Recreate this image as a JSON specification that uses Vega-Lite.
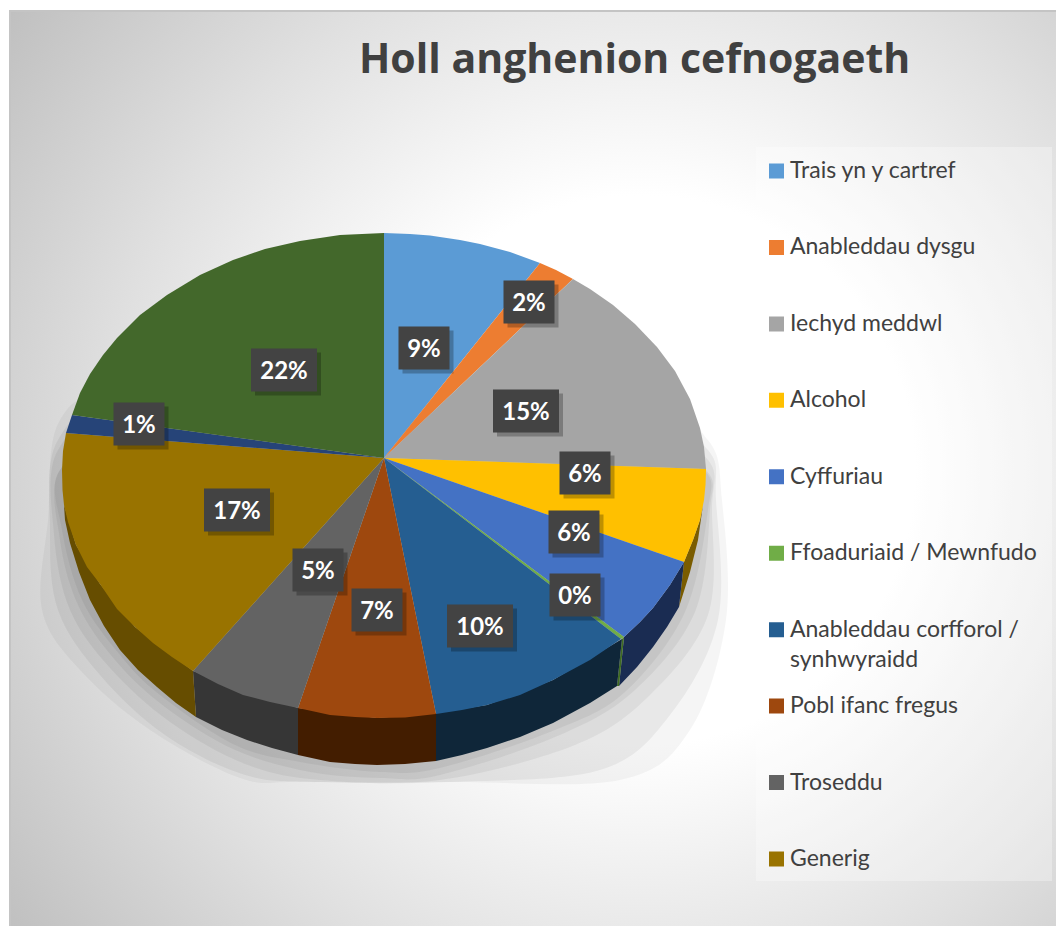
{"$schema":"https://vega.github.io/schema/vega-lite/v6.json","width":1056,"height":926,"padding":0,"autosize":{"type":"none"},"background":"white",
"title":{"text":"Holl anghenion cefnogaeth","font":"Open Sans","fontSize":41,"fontWeight":"bold","color":"#404040","anchor":"start","frame":"group","dx":359,"offset":-82},
"config":{"view":{"stroke":null}},
"datasets":{
"panels":[{"name":"frame","x":10,"x2":1060,"y":11,"y2":930}],
"legendPanel":[{"name":"legend","x":756,"x2":1052,"y":147,"y2":881}],
"legendWrap":[{"text":"synhwyraidd","x":790,"y":660}],
"shadow":[
{"band":"b1","i":0,"x":60,"y":420},{"band":"b1","i":1,"x":48,"y":520},{"band":"b1","i":2,"x":42,"y":610},{"band":"b1","i":3,"x":80,"y":670},{"band":"b1","i":4,"x":150,"y":730},{"band":"b1","i":5,"x":240,"y":778},{"band":"b1","i":6,"x":300,"y":782},{"band":"b1","i":7,"x":450,"y":782},{"band":"b1","i":8,"x":620,"y":780},{"band":"b1","i":9,"x":690,"y":730},{"band":"b1","i":10,"x":726,"y":620},{"band":"b1","i":11,"x":722,"y":500},{"band":"b1","i":12,"x":708,"y":440},{"band":"b1","i":13,"x":640,"y":400},{"band":"b1","i":14,"x":384,"y":380},{"band":"b1","i":15,"x":130,"y":390},
{"band":"b2","i":0,"x":58,"y":440},{"band":"b2","i":1,"x":50,"y":530},{"band":"b2","i":2,"x":58,"y":610},{"band":"b2","i":3,"x":100,"y":675},{"band":"b2","i":4,"x":165,"y":735},{"band":"b2","i":5,"x":245,"y":775},{"band":"b2","i":6,"x":320,"y":782},{"band":"b2","i":7,"x":450,"y":782},{"band":"b2","i":8,"x":600,"y":770},{"band":"b2","i":9,"x":670,"y":715},{"band":"b2","i":10,"x":718,"y":620},{"band":"b2","i":11,"x":716,"y":500},{"band":"b2","i":12,"x":708,"y":450},{"band":"b2","i":13,"x":640,"y":410},{"band":"b2","i":14,"x":384,"y":390},{"band":"b2","i":15,"x":130,"y":400},
{"band":"b3","i":0,"x":58,"y":450},{"band":"b3","i":1,"x":54,"y":535},{"band":"b3","i":2,"x":70,"y":610},{"band":"b3","i":3,"x":110,"y":668},{"band":"b3","i":4,"x":170,"y":722},{"band":"b3","i":5,"x":245,"y":764},{"band":"b3","i":6,"x":320,"y":780},{"band":"b3","i":7,"x":440,"y":780},{"band":"b3","i":8,"x":575,"y":745},{"band":"b3","i":9,"x":650,"y":695},{"band":"b3","i":10,"x":708,"y":615},{"band":"b3","i":11,"x":712,"y":510},{"band":"b3","i":12,"x":708,"y":460},{"band":"b3","i":13,"x":640,"y":420},{"band":"b3","i":14,"x":384,"y":400},{"band":"b3","i":15,"x":130,"y":410},
{"band":"b4","i":0,"x":60,"y":470},{"band":"b4","i":1,"x":60,"y":540},{"band":"b4","i":2,"x":78,"y":605},{"band":"b4","i":3,"x":115,"y":660},{"band":"b4","i":4,"x":165,"y":707},{"band":"b4","i":5,"x":235,"y":750},{"band":"b4","i":6,"x":310,"y":772},{"band":"b4","i":7,"x":380,"y":778},{"band":"b4","i":8,"x":440,"y":775},{"band":"b4","i":9,"x":560,"y":735},{"band":"b4","i":10,"x":635,"y":690},{"band":"b4","i":11,"x":695,"y":612},{"band":"b4","i":12,"x":710,"y":510},{"band":"b4","i":13,"x":706,"y":470},{"band":"b4","i":14,"x":640,"y":430},{"band":"b4","i":15,"x":384,"y":410},{"band":"b4","i":16,"x":130,"y":430},
{"band":"b5","i":0,"x":60,"y":470},{"band":"b5","i":1,"x":62,"y":530},{"band":"b5","i":2,"x":82,"y":600},{"band":"b5","i":3,"x":120,"y":655},{"band":"b5","i":4,"x":160,"y":695},{"band":"b5","i":5,"x":235,"y":745},{"band":"b5","i":6,"x":300,"y":762},{"band":"b5","i":7,"x":380,"y":772},{"band":"b5","i":8,"x":440,"y":768},{"band":"b5","i":9,"x":555,"y":730},{"band":"b5","i":10,"x":625,"y":692},{"band":"b5","i":11,"x":685,"y":612},{"band":"b5","i":12,"x":708,"y":510},{"band":"b5","i":13,"x":704,"y":470},{"band":"b5","i":14,"x":640,"y":440},{"band":"b5","i":15,"x":384,"y":420},{"band":"b5","i":16,"x":130,"y":440}
],
"walls":[
{"slice":"Alcohol","i":0,"x":703,"y":505},{"slice":"Alcohol","i":1,"x":698,"y":540},{"slice":"Alcohol","i":2,"x":690,"y":572},{"slice":"Alcohol","i":3,"x":679,"y":607},{"slice":"Alcohol","i":4,"x":684,"y":562},{"slice":"Alcohol","i":5,"x":693,"y":540},{"slice":"Alcohol","i":6,"x":700,"y":520},
{"slice":"Cyffuriau","i":0,"x":684,"y":562},{"slice":"Cyffuriau","i":1,"x":679,"y":607},{"slice":"Cyffuriau","i":2,"x":667,"y":627},{"slice":"Cyffuriau","i":3,"x":653,"y":647},{"slice":"Cyffuriau","i":4,"x":637,"y":667},{"slice":"Cyffuriau","i":5,"x":619,"y":686},{"slice":"Cyffuriau","i":6,"x":624,"y":637},{"slice":"Cyffuriau","i":7,"x":640,"y":622},{"slice":"Cyffuriau","i":8,"x":653,"y":608},{"slice":"Cyffuriau","i":9,"x":670,"y":585},
{"slice":"Ffoaduriaid / Mewnfudo","i":0,"x":624,"y":637},{"slice":"Ffoaduriaid / Mewnfudo","i":1,"x":619,"y":686},{"slice":"Ffoaduriaid / Mewnfudo","i":2,"x":617,"y":686},{"slice":"Ffoaduriaid / Mewnfudo","i":3,"x":622,"y":639},
{"slice":"Anableddau corfforol / synhwyraidd","i":0,"x":622,"y":639},{"slice":"Anableddau corfforol / synhwyraidd","i":1,"x":617,"y":686},{"slice":"Anableddau corfforol / synhwyraidd","i":2,"x":590,"y":703},{"slice":"Anableddau corfforol / synhwyraidd","i":3,"x":553,"y":723},{"slice":"Anableddau corfforol / synhwyraidd","i":4,"x":520,"y":737},{"slice":"Anableddau corfforol / synhwyraidd","i":5,"x":487,"y":748},{"slice":"Anableddau corfforol / synhwyraidd","i":6,"x":462,"y":755},{"slice":"Anableddau corfforol / synhwyraidd","i":7,"x":436,"y":761},{"slice":"Anableddau corfforol / synhwyraidd","i":8,"x":436,"y":713},{"slice":"Anableddau corfforol / synhwyraidd","i":9,"x":487,"y":705},{"slice":"Anableddau corfforol / synhwyraidd","i":10,"x":553,"y":680},
{"slice":"Pobl ifanc fregus","i":0,"x":436,"y":713},{"slice":"Pobl ifanc fregus","i":1,"x":436,"y":761},{"slice":"Pobl ifanc fregus","i":2,"x":405,"y":764},{"slice":"Pobl ifanc fregus","i":3,"x":377,"y":765},{"slice":"Pobl ifanc fregus","i":4,"x":355,"y":764},{"slice":"Pobl ifanc fregus","i":5,"x":330,"y":762},{"slice":"Pobl ifanc fregus","i":6,"x":298,"y":755},{"slice":"Pobl ifanc fregus","i":7,"x":298,"y":708},{"slice":"Pobl ifanc fregus","i":8,"x":377,"y":718},
{"slice":"Troseddu","i":0,"x":298,"y":708},{"slice":"Troseddu","i":1,"x":298,"y":755},{"slice":"Troseddu","i":2,"x":272,"y":748},{"slice":"Troseddu","i":3,"x":247,"y":740},{"slice":"Troseddu","i":4,"x":222,"y":730},{"slice":"Troseddu","i":5,"x":196,"y":717},{"slice":"Troseddu","i":6,"x":193,"y":671},
{"slice":"Generig","i":0,"x":193,"y":671},{"slice":"Generig","i":1,"x":196,"y":717},{"slice":"Generig","i":2,"x":176,"y":703},{"slice":"Generig","i":3,"x":157,"y":687},{"slice":"Generig","i":4,"x":138,"y":670},{"slice":"Generig","i":5,"x":120,"y":650},{"slice":"Generig","i":6,"x":104,"y":626},{"slice":"Generig","i":7,"x":90,"y":600},{"slice":"Generig","i":8,"x":79,"y":572},{"slice":"Generig","i":9,"x":70,"y":543},{"slice":"Generig","i":10,"x":65,"y":520},{"slice":"Generig","i":11,"x":64,"y":505},{"slice":"Generig","i":12,"x":76,"y":545},{"slice":"Generig","i":13,"x":100,"y":584},{"slice":"Generig","i":14,"x":135,"y":627}
],
"wedges":[
{"slice":"Trais yn y cartref","i":0,"x":384,"y":458},{"slice":"Trais yn y cartref","i":1,"x":384,"y":233},{"slice":"Trais yn y cartref","i":2,"x":410,"y":234},{"slice":"Trais yn y cartref","i":3,"x":430,"y":235.5},{"slice":"Trais yn y cartref","i":4,"x":460,"y":240},{"slice":"Trais yn y cartref","i":5,"x":480,"y":244},{"slice":"Trais yn y cartref","i":6,"x":510,"y":252},{"slice":"Trais yn y cartref","i":7,"x":540,"y":263},
{"slice":"Anableddau dysgu","i":0,"x":384,"y":458},{"slice":"Anableddau dysgu","i":1,"x":540,"y":263},{"slice":"Anableddau dysgu","i":2,"x":556,"y":270},{"slice":"Anableddau dysgu","i":3,"x":573,"y":279},
{"slice":"Iechyd meddwl","i":0,"x":384,"y":458},{"slice":"Iechyd meddwl","i":1,"x":573,"y":279},{"slice":"Iechyd meddwl","i":2,"x":590,"y":289},{"slice":"Iechyd meddwl","i":3,"x":613,"y":305},{"slice":"Iechyd meddwl","i":4,"x":635,"y":324},{"slice":"Iechyd meddwl","i":5,"x":657,"y":347},{"slice":"Iechyd meddwl","i":6,"x":675,"y":371},{"slice":"Iechyd meddwl","i":7,"x":690,"y":399},{"slice":"Iechyd meddwl","i":8,"x":700,"y":428},{"slice":"Iechyd meddwl","i":9,"x":704,"y":447},{"slice":"Iechyd meddwl","i":10,"x":706,"y":469},
{"slice":"Alcohol","i":0,"x":384,"y":458},{"slice":"Alcohol","i":1,"x":706,"y":469},{"slice":"Alcohol","i":2,"x":705.5,"y":485},{"slice":"Alcohol","i":3,"x":704,"y":500},{"slice":"Alcohol","i":4,"x":700,"y":520},{"slice":"Alcohol","i":5,"x":693,"y":540},{"slice":"Alcohol","i":6,"x":684,"y":562},
{"slice":"Cyffuriau","i":0,"x":384,"y":458},{"slice":"Cyffuriau","i":1,"x":684,"y":562},{"slice":"Cyffuriau","i":2,"x":670,"y":585},{"slice":"Cyffuriau","i":3,"x":653,"y":608},{"slice":"Cyffuriau","i":4,"x":640,"y":622},{"slice":"Cyffuriau","i":5,"x":624,"y":637},
{"slice":"Ffoaduriaid / Mewnfudo","i":0,"x":384,"y":458},{"slice":"Ffoaduriaid / Mewnfudo","i":1,"x":624,"y":637},{"slice":"Ffoaduriaid / Mewnfudo","i":2,"x":621,"y":639},
{"slice":"Anableddau corfforol / synhwyraidd","i":0,"x":384,"y":458},{"slice":"Anableddau corfforol / synhwyraidd","i":1,"x":621,"y":639},{"slice":"Anableddau corfforol / synhwyraidd","i":2,"x":590,"y":660},{"slice":"Anableddau corfforol / synhwyraidd","i":3,"x":553,"y":680},{"slice":"Anableddau corfforol / synhwyraidd","i":4,"x":520,"y":695},{"slice":"Anableddau corfforol / synhwyraidd","i":5,"x":487,"y":705},{"slice":"Anableddau corfforol / synhwyraidd","i":6,"x":462,"y":710},{"slice":"Anableddau corfforol / synhwyraidd","i":7,"x":436,"y":714},
{"slice":"Pobl ifanc fregus","i":0,"x":384,"y":458},{"slice":"Pobl ifanc fregus","i":1,"x":436,"y":714},{"slice":"Pobl ifanc fregus","i":2,"x":405,"y":717.5},{"slice":"Pobl ifanc fregus","i":3,"x":377,"y":718},{"slice":"Pobl ifanc fregus","i":4,"x":355,"y":717},{"slice":"Pobl ifanc fregus","i":5,"x":330,"y":715},{"slice":"Pobl ifanc fregus","i":6,"x":298,"y":708},
{"slice":"Troseddu","i":0,"x":384,"y":458},{"slice":"Troseddu","i":1,"x":298,"y":708},{"slice":"Troseddu","i":2,"x":270,"y":702},{"slice":"Troseddu","i":3,"x":243,"y":695},{"slice":"Troseddu","i":4,"x":218,"y":684},{"slice":"Troseddu","i":5,"x":193,"y":671},
{"slice":"Generig","i":0,"x":384,"y":458},{"slice":"Generig","i":1,"x":193,"y":671},{"slice":"Generig","i":2,"x":172,"y":657},{"slice":"Generig","i":3,"x":153,"y":643},{"slice":"Generig","i":4,"x":135,"y":627},{"slice":"Generig","i":5,"x":117,"y":609},{"slice":"Generig","i":6,"x":100,"y":584},{"slice":"Generig","i":7,"x":87,"y":567},{"slice":"Generig","i":8,"x":76,"y":545},{"slice":"Generig","i":9,"x":68,"y":522},{"slice":"Generig","i":10,"x":64,"y":505},{"slice":"Generig","i":11,"x":62.5,"y":490},{"slice":"Generig","i":12,"x":62,"y":470},{"slice":"Generig","i":13,"x":63,"y":451},{"slice":"Generig","i":14,"x":66,"y":433},
{"slice":"Arall","i":0,"x":384,"y":458},{"slice":"Arall","i":1,"x":66,"y":433},{"slice":"Arall","i":2,"x":69,"y":424},{"slice":"Arall","i":3,"x":72,"y":415},
{"slice":"Eraill","i":0,"x":384,"y":458},{"slice":"Eraill","i":1,"x":72,"y":415},{"slice":"Eraill","i":2,"x":80,"y":393},{"slice":"Eraill","i":3,"x":90,"y":374},{"slice":"Eraill","i":4,"x":103,"y":355},{"slice":"Eraill","i":5,"x":117,"y":338},{"slice":"Eraill","i":6,"x":140,"y":315},{"slice":"Eraill","i":7,"x":167,"y":295},{"slice":"Eraill","i":8,"x":200,"y":275},{"slice":"Eraill","i":9,"x":233,"y":260},{"slice":"Eraill","i":10,"x":265,"y":249},{"slice":"Eraill","i":11,"x":300,"y":241},{"slice":"Eraill","i":12,"x":340,"y":235},{"slice":"Eraill","i":13,"x":384,"y":233}
],
"labels":[
{"slice":"Trais yn y cartref","label":"9%","x":424,"y":348,"w":"narrow"},
{"slice":"Anableddau dysgu","label":"2%","x":529,"y":302,"w":"narrow"},
{"slice":"Iechyd meddwl","label":"15%","x":526,"y":411,"w":"wide"},
{"slice":"Alcohol","label":"6%","x":585,"y":473,"w":"narrow"},
{"slice":"Cyffuriau","label":"6%","x":574,"y":532,"w":"narrow"},
{"slice":"Ffoaduriaid / Mewnfudo","label":"0%","x":575,"y":595,"w":"narrow"},
{"slice":"Anableddau corfforol / synhwyraidd","label":"10%","x":480,"y":626,"w":"wide"},
{"slice":"Pobl ifanc fregus","label":"7%","x":377,"y":610,"w":"narrow"},
{"slice":"Troseddu","label":"5%","x":318,"y":570,"w":"narrow"},
{"slice":"Generig","label":"17%","x":237,"y":510,"w":"wide"},
{"slice":"Arall","label":"1%","x":139,"y":424,"w":"narrow"},
{"slice":"Eraill","label":"22%","x":284,"y":370,"w":"wide"}
]},
"encoding":{"x":{"field":"x","type":"quantitative","scale":{"domain":[0,1056],"nice":false,"zero":false},"axis":null},"y":{"field":"y","type":"quantitative","scale":{"domain":[926,0],"nice":false,"zero":false},"axis":null}},
"layer":[
{"data":{"name":"panels"},"mark":{"type":"rect","stroke":"#c4c4c4","strokeWidth":2,"fill":{"gradient":"radial","x1":0.6,"y1":0.5,"r1":0,"x2":0.6,"y2":0.5,"r2":0.77,"stops":[{"offset":0,"color":"#ffffff"},{"offset":0.34,"color":"#ffffff"},{"offset":0.66,"color":"#e0e0e0"},{"offset":1,"color":"#bcbcbc"}]}},
"encoding":{"x2":{"field":"x2"},"y2":{"field":"y2"}}},
{"data":{"name":"shadow"},"transform":[{"filter":"datum.band=='b1'"}],"mark":{"type":"line","interpolate":"cardinal-closed","fill":"#000000","fillOpacity":0.04,"strokeWidth":0},"encoding":{"order":{"field":"i"}}},
{"data":{"name":"shadow"},"transform":[{"filter":"datum.band=='b2'"}],"mark":{"type":"line","interpolate":"cardinal-closed","fill":"#000000","fillOpacity":0.05,"strokeWidth":0},"encoding":{"order":{"field":"i"}}},
{"data":{"name":"shadow"},"transform":[{"filter":"datum.band=='b3'"}],"mark":{"type":"line","interpolate":"cardinal-closed","fill":"#000000","fillOpacity":0.05,"strokeWidth":0},"encoding":{"order":{"field":"i"}}},
{"data":{"name":"shadow"},"transform":[{"filter":"datum.band=='b4'"}],"mark":{"type":"line","interpolate":"cardinal-closed","fill":"#000000","fillOpacity":0.05,"strokeWidth":0},"encoding":{"order":{"field":"i"}}},
{"data":{"name":"shadow"},"transform":[{"filter":"datum.band=='b5'"}],"mark":{"type":"line","interpolate":"cardinal-closed","fill":"#000000","fillOpacity":0.05,"strokeWidth":0},"encoding":{"order":{"field":"i"}}},
{"data":{"name":"walls"},"mark":{"type":"line","strokeWidth":0},"encoding":{"order":{"field":"i"},"fill":{"field":"slice","type":"nominal","legend":null,"scale":{"domain":["Alcohol","Cyffuriau","Ffoaduriaid / Mewnfudo","Anableddau corfforol / synhwyraidd","Pobl ifanc fregus","Troseddu","Generig"],"range":["#7a5c00","#1a2c52","#3f6b22","#0f2639","#431d00","#363636","#664d00"]}}}},
{"data":{"name":"wedges"},"mark":{"type":"line","strokeWidth":0},"encoding":{"order":{"field":"i"},"fill":{"field":"slice","type":"nominal","scale":{"domain":["Trais yn y cartref","Anableddau dysgu","Iechyd meddwl","Alcohol","Cyffuriau","Ffoaduriaid / Mewnfudo","Anableddau corfforol / synhwyraidd","Pobl ifanc fregus","Troseddu","Generig","Arall","Eraill"],"range":["#5b9bd5","#ed7d31","#a5a5a5","#ffc000","#4472c4","#70ad47","#255e91","#9e480e","#636363","#997300","#264478","#43682b"]},
"legend":{"values":["Trais yn y cartref","Anableddau dysgu","Iechyd meddwl","Alcohol","Cyffuriau","Ffoaduriaid / Mewnfudo","Anableddau corfforol / synhwyraidd","Pobl ifanc fregus","Troseddu","Generig"],"title":null,"orient":"none","legendX":765,"legendY":133,"symbolType":"square","symbolSize":225,"symbolStrokeWidth":0,"labelFont":"Lato","labelFontSize":23,"labelColor":"#404040","labelOffset":2,"labelLimit":280,"clipHeight":76,"rowPadding":0.44,"labelExpr":"datum.label=='Anableddau corfforol / synhwyraidd'?'Anableddau corfforol /':datum.label"}}}},
{"data":{"name":"legendPanel"},"mark":{"type":"rect","fill":"#ffffff","fillOpacity":0.3},"encoding":{"x2":{"field":"x2"},"y2":{"field":"y2"}}},
{"data":{"name":"legendWrap"},"mark":{"type":"text","font":"Lato","fontSize":23,"color":"#404040","align":"left","baseline":"middle"},"encoding":{"text":{"field":"text"}}},
{"data":{"name":"labels"},"transform":[{"filter":"datum.w=='narrow'"}],"mark":{"type":"rect","width":51,"height":43,"fill":"#000000","opacity":0.25,"xOffset":4,"yOffset":4}},
{"data":{"name":"labels"},"transform":[{"filter":"datum.w=='wide'"}],"mark":{"type":"rect","width":66,"height":43,"fill":"#000000","opacity":0.25,"xOffset":4,"yOffset":4}},
{"data":{"name":"labels"},"transform":[{"filter":"datum.w=='narrow'"}],"mark":{"type":"rect","width":51,"height":43,"fill":"#434343"}},
{"data":{"name":"labels"},"transform":[{"filter":"datum.w=='wide'"}],"mark":{"type":"rect","width":66,"height":43,"fill":"#434343"}},
{"data":{"name":"labels"},"mark":{"type":"text","font":"Lato","fontSize":24,"fontWeight":"bold","color":"#ffffff","align":"center","baseline":"middle","dy":2},"encoding":{"text":{"field":"label"}}}
],
"resolve":{"scale":{"fill":"independent"}}
}
